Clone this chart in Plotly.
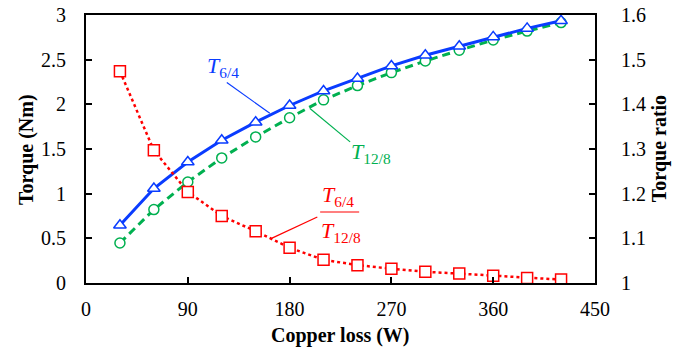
import plotly.graph_objects as go

copper_loss = [30, 60, 90, 120, 150, 180, 210, 240, 270, 300, 330, 360, 390, 420]
torque_6_4 = [0.646, 1.057, 1.355, 1.598, 1.80, 1.987, 2.15, 2.29, 2.43, 2.55, 2.65, 2.755, 2.85, 2.935]
torque_12_8 = [0.448, 0.822, 1.131, 1.40, 1.635, 1.85, 2.05, 2.21, 2.355, 2.485, 2.605, 2.72, 2.82, 2.915]
torque_ratio = [1.474, 1.297, 1.204, 1.150, 1.116, 1.079, 1.052, 1.040, 1.032, 1.025, 1.021, 1.0165, 1.011, 1.0076]

x_ticks = [0, 90, 180, 270, 360, 450]
y_ticks = [0, 0.5, 1, 1.5, 2, 2.5, 3]
y2_ticks = [1, 1.1, 1.2, 1.3, 1.4, 1.5, 1.6]

BLUE = "#0a3cff"
GREEN = "#00b050"
RED = "#ff0000"
FONT = "Liberation Serif"

fig = go.Figure()
fig.add_trace(go.Scatter(
    x=copper_loss, y=torque_12_8, mode="lines+markers",
    line=dict(color=GREEN, width=3, dash="8px,5px"),
    marker=dict(symbol="circle", size=10, color="white", line=dict(width=1.5, color=GREEN)),
    showlegend=False))
fig.add_trace(go.Scatter(
    x=copper_loss, y=torque_6_4, mode="lines+markers",
    line=dict(color=BLUE, width=3),
    marker=dict(symbol="triangle-up", size=11, color="white", line=dict(width=1.5, color=BLUE)),
    showlegend=False))
fig.add_trace(go.Scatter(
    x=copper_loss, y=torque_ratio, mode="lines+markers", yaxis="y2",
    line=dict(color=RED, width=2.5, dash="dot"),
    marker=dict(symbol="square", size=11, color="white", line=dict(width=1.5, color=RED)),
    showlegend=False))

axis_common = dict(
    showgrid=False, zeroline=False, showline=True, linecolor="black", linewidth=2,
    ticks="inside", ticklen=6, tickwidth=1.5, tickcolor="black", automargin=False,
    tickfont=dict(family=FONT, size=20, color="black"),
)

fig.update_layout(
    width=683, height=349,
    margin=dict(l=86, r=88, t=15, b=66),
    paper_bgcolor="white", plot_bgcolor="white",
    font=dict(family=FONT, color="black"),
    xaxis=dict(range=[0, 450], tickvals=x_ticks, mirror=True, ticklabelstandoff=7,
               **axis_common),
    yaxis=dict(range=[0, 3], tickvals=y_ticks, ticklabelstandoff=14,
               **axis_common),
    yaxis2=dict(range=[1, 1.6], tickvals=y2_ticks, overlaying="y", side="right",
                ticklabelstandoff=20,
                **axis_common),
)

# axis titles
fig.add_annotation(x=0.5, y=-0.195, xref="paper", yref="paper", showarrow=False,
                   xanchor="center", yanchor="middle",
                   text="<b>Copper loss (W)</b>", font=dict(family=FONT, size=20, color="black"))
fig.add_annotation(x=-0.118, y=0.5, xref="paper", yref="paper", showarrow=False, textangle=-90,
                   xanchor="center", yanchor="middle",
                   text="<b>Torque (Nm)</b>", font=dict(family=FONT, size=20, color="black"))
fig.add_annotation(x=1.126, y=0.5, xref="paper", yref="paper", showarrow=False, textangle=-90,
                   xanchor="center", yanchor="middle",
                   text="<b>Torque ratio</b>", font=dict(family=FONT, size=20, color="black"))

# labels and leader lines
fig.add_annotation(x=121, y=2.42, xref="x", yref="y", showarrow=False,
                   text="<i>T</i><sub>6/4</sub>", font=dict(family=FONT, size=22, color=BLUE))
fig.add_shape(type="line", x0=124.5, y0=2.245, x1=162.5, y1=1.90, xref="x", yref="y",
              line=dict(color=BLUE, width=1.2))

fig.add_annotation(x=252, y=1.45, xref="x", yref="y", showarrow=False,
                   text="<i>T</i><sub>12/8</sub>", font=dict(family=FONT, size=22, color=GREEN))
fig.add_shape(type="line", x0=198, y0=1.953, x1=233.5, y1=1.58, xref="x", yref="y",
              line=dict(color=GREEN, width=1.2))

fig.add_annotation(x=223, y=0.97, xref="x", yref="y", showarrow=False,
                   text="<i>T</i><sub>6/4</sub>", font=dict(family=FONT, size=22, color=RED))
fig.add_annotation(x=225, y=0.57, xref="x", yref="y", showarrow=False,
                   text="<i>T</i><sub>12/8</sub>", font=dict(family=FONT, size=22, color=RED))
fig.add_shape(type="line", x0=207, y0=0.795, x1=241.5, y1=0.795, xref="x", yref="y",
              line=dict(color=RED, width=1.2))
fig.add_shape(type="line", x0=163.5, y0=0.497, x1=204.5, y1=0.739, xref="x", yref="y",
              line=dict(color=RED, width=1.2))

fig.write_html("out.html")
